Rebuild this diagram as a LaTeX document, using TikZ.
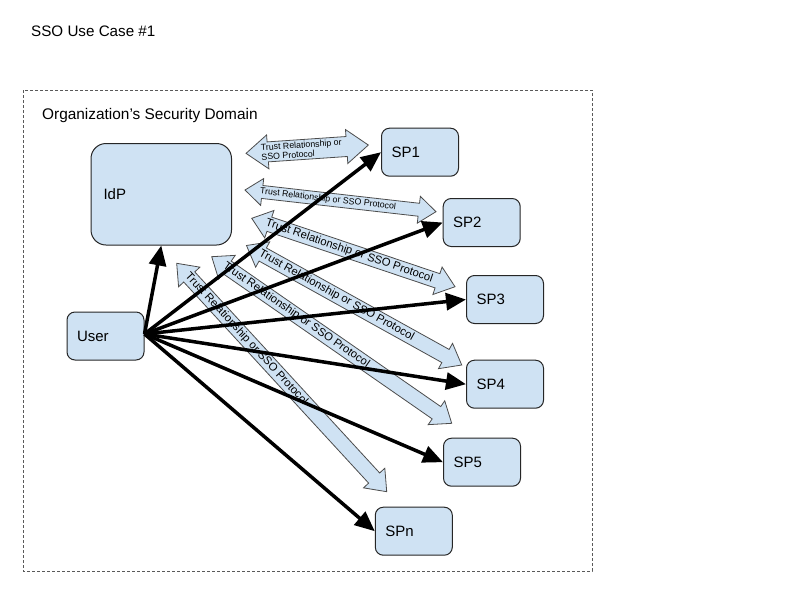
\documentclass[tikz,border=0pt]{standalone}
\usepackage{fontspec}
\setmainfont{Liberation Sans}
\usetikzlibrary{arrows.meta}

\definecolor{boxblue}{HTML}{CFE2F3}

\tikzstyle {sysbox} = [draw=black!85, line width=1pt, fill=boxblue, rounded corners=8pt, minimum width=77pt, minimum height=48pt, inner xsep=10pt, text width=57pt, align=left, font=\fontsize{15}{18}\selectfont]
\tikzstyle {trust} = [draw=black!70, line width=0.8pt, fill=boxblue]
\tikzstyle {bigtext} = [inner sep=0pt, font=\fontsize{11.3}{13}\selectfont]
\tikzstyle {smalltext} = [inner sep=0pt, font=\fontsize{8.8}{9.5}\selectfont]
\tikzstyle {userlink} = [line width=3.5pt, -{Triangle[length=20pt,width=17pt]}]

% double arrow: [half shaft]{name}{centre}{angle}{length}{text style}{text}
\newcommand{\trustarrow}[7][7.5]{%
    \begin{scope}[shift={(#3)}, rotate=#4]
        \pgfmathsetmacro\arrowhalf{#5/2}
        \pgfmathsetmacro\headhalf{#1+7}
        \pgfmathsetmacro\headbase{#5/2-1.28*(#1+7)}
        \draw [trust] (-\arrowhalf,0) -- (-\headbase,\headhalf) -- (-\headbase,#1) -- (\headbase,#1) -- (\headbase,\headhalf) -- (\arrowhalf,0)
            -- (\headbase,-\headhalf) -- (\headbase,-#1) -- (-\headbase,-#1) -- (-\headbase,-\headhalf) -- cycle;
        \node [#6, transform shape, anchor=west] (#2) at ({15-\arrowhalf},0) {#7};
    \end{scope}}

\begin{document}
\begin{tikzpicture}[x=1pt, y=-1pt]
    \useasboundingbox (0,0) rectangle (800,600);

    % title and security domain
    \node [anchor=base west, inner sep=0pt, font=\fontsize{15.2}{18}\selectfont] (title) at (31,36) {SSO Use Case \#1};
    \draw [black!65, line width=1pt, dash pattern=on 3pt off 2pt] (23,90) rectangle (592,571);
    \node [anchor=base west, inner sep=0pt, font=\fontsize{15.4}{18}\selectfont] (domain) at (42,119.5) {Organization’s Security Domain};

    % parties
    \node [sysbox, rounded corners=15pt, minimum width=140.5pt, minimum height=101.5pt, inner xsep=12.5pt, text width=115.5pt] (idp) at (161.25,194.25) {IdP};
    \node [sysbox] (user) at (105.5,336) {User};
    \node [sysbox] (sp1) at (420,152.2) {SP1};
    \node [sysbox] (sp2) at (481.7,222.5) {SP2};
    \node [sysbox] (sp3) at (505,299.5) {SP3};
    \node [sysbox] (sp4) at (505,384.2) {SP4};
    \node [sysbox] (sp5) at (482,462.2) {SP5};
    \node [sysbox] (spn) at (413.8,531.2) {SPn};

    % trust relationships
    \trustarrow[10]{trust1}{307.2,149.2}{3.9}{122.6}{smalltext, align=left}{Trust Relationship or\\SSO Protocol}
    \trustarrow[6.5]{trust2}{340.5,200.85}{-6.48}{192.2}{smalltext}{Trust Relationship or SSO Protocol}
    \trustarrow{trust3}{353.4,252.5}{-18.6}{214.5}{bigtext}{Trust Relationship or SSO Protocol}
    \trustarrow{trust4}{354.1,305.25}{-29.04}{246.2}{bigtext}{Trust Relationship or SSO Protocol}
    \trustarrow{trust5}{331.7,340}{-34.77}{292.2}{bigtext}{Trust Relationship or SSO Protocol}
    \trustarrow{trust6}{281.7,377.5}{-47.4}{310.3}{bigtext}{Trust Relationship or SSO Protocol}

    % user access
    \coordinate (hub) at ([yshift=2pt]user.east);
    \draw [userlink] (hub) -- (idp.south);
    \foreach \sp in {sp1,sp2,sp3,sp4,sp5,spn}
        \draw [userlink] (hub) -- (\sp.west);
\end{tikzpicture}
\end{document}
